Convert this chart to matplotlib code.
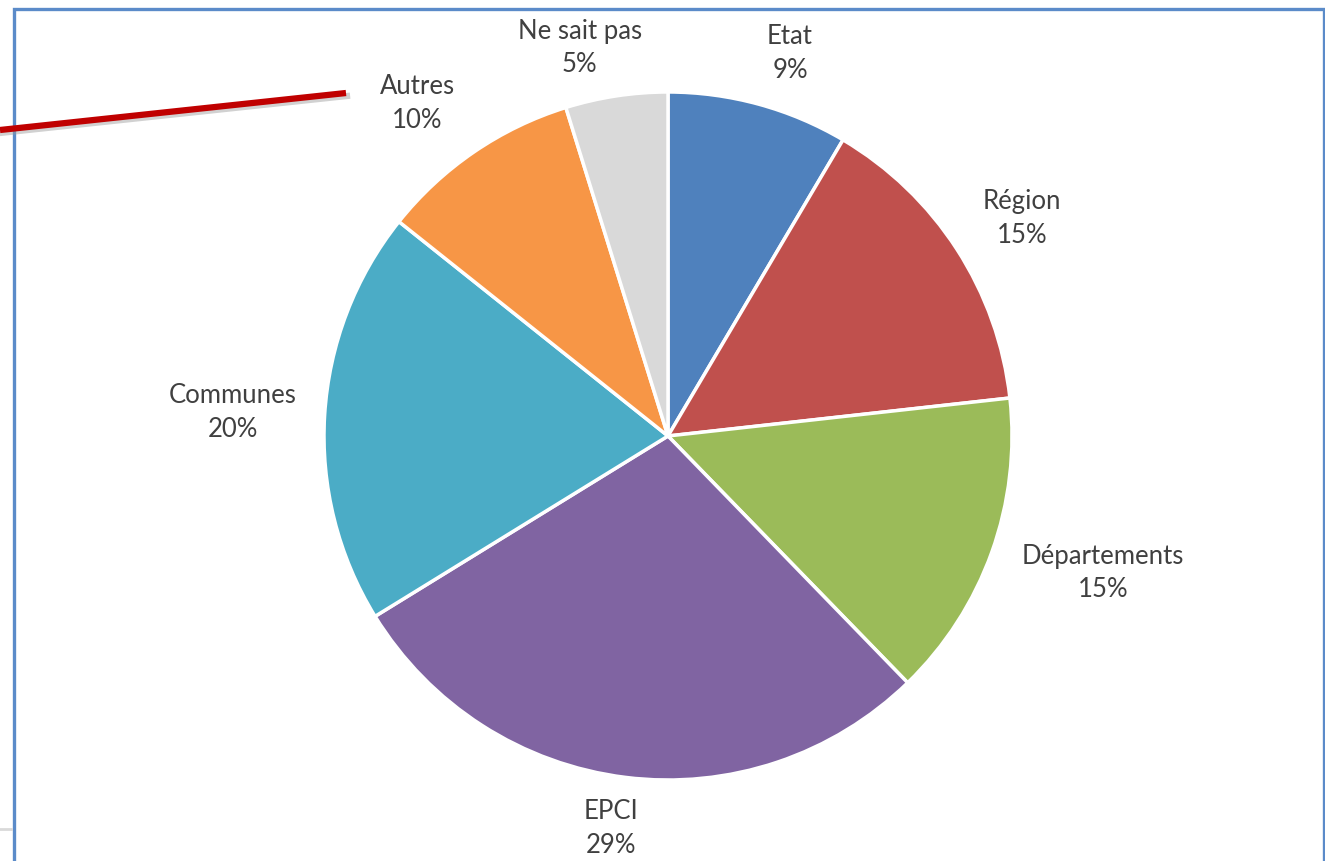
import matplotlib.pyplot as plt
import numpy as np
from matplotlib.patches import Rectangle
from matplotlib.lines import Line2D

# shares, labels as printed on the chart
categories = ["Etat", "Région", "Départements", "EPCI", "Communes", "Autres", "Ne sait pas"]
shares = [8.5, 14.75, 14.5, 28.5, 19.5, 9.5, 4.8]
pct_labels = ["9%", "15%", "15%", "29%", "20%", "10%", "5%"]
colors = ["#4F81BD", "#C0504D", "#9BBB59", "#8064A2", "#4BACC6", "#F79646", "#D9D9D9"]
# label placement: clock angle from top (deg) and distance in radii
label_angle = [17.7, 58.4, 107.5, 188.3, 273.1, 323.0, 347.2]
label_dist = [1.167, 1.208, 1.326, 1.153, 1.266, 1.211, 1.157]

W, H = 1325, 861
cx, cy, R = 668, 436, 344

fig = plt.figure(figsize=(W / 100, H / 100), dpi=100)
ax = fig.add_axes([0, 0, 1, 1])
wedges, _ = ax.pie(shares, colors=colors, startangle=90, counterclock=False,
                   radius=1, wedgeprops=dict(edgecolor="white", linewidth=2.5))
ax.set_xlim(-cx / R, (W - cx) / R)
ax.set_ylim(-(H - cy) / R, cy / R)
ax.axis("off")

# outside-end labels
for name, pct, a, d in zip(categories, pct_labels, label_angle, label_dist):
    t = np.deg2rad(90 - a)
    ax.text(d * np.cos(t), d * np.sin(t), name + "\n" + pct,
            ha="center", va="center", fontsize=18.5, family="Lato",
            color="#404040", linespacing=1.43)

# chart frame and the red pointer line
fig.add_artist(Rectangle((13.5 / W, -0.1), (1323.5 - 13.5) / W, 1.1 - 8.5 / H,
                         transform=fig.transFigure, fill=False,
                         edgecolor="#5B8BC9", linewidth=2.4))
fig.add_artist(Line2D([0, 347 / W], [1 - 133 / H, 1 - 96 / H], transform=fig.transFigure,
                      color="#999999", alpha=0.45, linewidth=4.5))
fig.add_artist(Line2D([0, 346 / W], [1 - 130 / H, 1 - 93 / H], transform=fig.transFigure,
                      color="#C00000", linewidth=4.5, solid_capstyle="butt"))
fig.add_artist(Line2D([0, 11 / W], [1 - 829 / H, 1 - 829 / H], transform=fig.transFigure,
                      color="#D9D9D9", linewidth=2))

fig.savefig("out.png", dpi=100)
